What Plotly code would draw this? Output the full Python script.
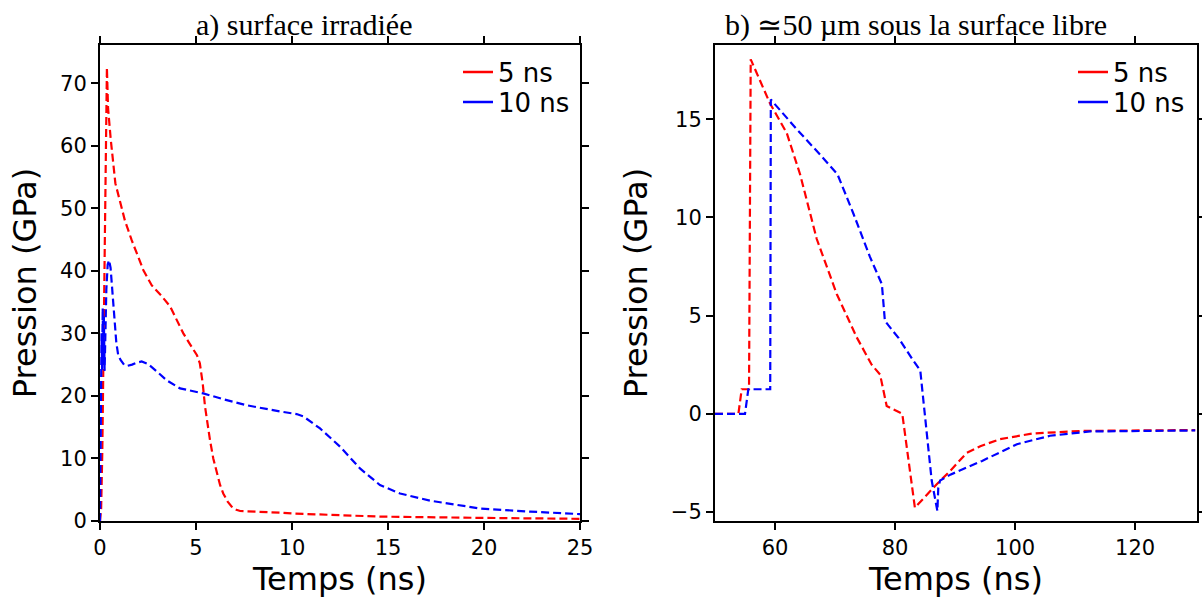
import plotly.graph_objects as go

# ---- Panel a) surface irradiée ----
t_5ns_a = [0, 0.06, 0.12, 0.2, 0.27, 0.33, 0.36, 0.42, 0.56, 0.8, 1.04, 1.3, 1.65, 2.0, 2.26, 2.69,
           3.2, 3.65, 4.0, 4.34, 4.7, 5.05, 5.2, 5.35, 5.47, 5.6, 5.73, 5.9, 6.08, 6.25, 6.42, 6.65,
           6.86, 7.1, 7.3, 8.5, 9.4, 10.0, 11.5, 14.6, 19.8, 25.0]
p_5ns_a = [0, 2, 11, 35, 55, 70, 72.5, 66, 61, 54, 51, 48, 44.9, 42.3, 40.1, 37.7,
           36, 34.3, 32, 30, 28.2, 26.5, 25.2, 22, 18.3, 15.5, 12.9, 10, 7.6, 5.8, 4.4, 3.1,
           2.3, 1.8, 1.6, 1.5, 1.33, 1.2, 1.0, 0.7, 0.5, 0.35]

t_10ns_a = [0, 0.04, 0.08, 0.11, 0.14, 0.17, 0.2, 0.24, 0.28, 0.33, 0.4, 0.47, 0.55, 0.63, 0.73,
            0.85, 0.95, 1.08, 1.25, 1.42, 1.67, 1.9, 2.17, 2.5, 3.0, 3.47, 4.17, 5.38, 6.5, 7.64,
            9.4, 10.24, 10.6, 11.46, 12.5, 13.54, 14.58, 15.63, 17.19, 19.79, 22.4, 25.0]
p_10ns_a = [0, 12, 30, 24, 34, 25, 33, 24, 30, 37, 41, 41.7, 40.5, 37, 32.6,
            28.5, 26.5, 25.7, 25.0, 24.8, 25.0, 25.3, 25.5, 25.1, 23.8, 22.5, 21.2, 20.4, 19.4, 18.5,
            17.5, 17.1, 16.7, 14.8, 11.9, 8.4, 5.75, 4.4, 3.25, 2.0, 1.5, 1.1]

# ---- Panel b) ~50 µm sous la surface libre ----
t_5ns_b = [50, 53.9, 54.45, 55.67, 55.95, 59.17, 61.95, 64.17, 66.95, 70.28, 73.6, 76.1, 77.5,
           78.6, 81.2, 83.3, 86.9, 89.2, 91.9, 94.2, 97.5, 103, 111.4, 130]
p_5ns_b = [0, 0, 1.25, 1.25, 18.05, 15.8, 14.3, 12.2, 8.9, 6.1, 3.9, 2.5, 2.0,
           0.4, 0.0, -4.78, -3.6, -2.9, -2.0, -1.65, -1.29, -1.0, -0.87, -0.83]

t_10ns_b = [50, 55.0, 55.55, 59.2, 59.3, 63.6, 67.5, 70.4, 73.05, 75.8, 77.8, 78.3, 78.9, 80.6,
            83.05, 84.2, 86.1, 87.05, 87.2, 87.5, 89.2, 94.5, 100.3, 105.8, 112.5, 130]
p_10ns_b = [0, 0, 1.25, 1.25, 16.0, 14.5, 13.2, 12.2, 10.2, 8.0, 6.6, 4.74, 4.5, 3.85,
            2.7, 2.2, -3.4, -4.95, -3.76, -3.4, -3.1, -2.4, -1.55, -1.12, -0.9, -0.85]

legend_labels = ["5 ns", "10 ns"]
colors = ["#ff0000", "#0000ff"]

xticks_a = [0, 5, 10, 15, 20, 25]
yticks_a = [0, 10, 20, 30, 40, 50, 60, 70]
xticks_b = [60, 80, 100, 120]
yticks_b = [-5, 0, 5, 10, 15]

titles = ["a) surface irradiée", "b) \u224350 \u00b5m sous la surface libre"]

W, H = 1202, 598
dash = "8px,4px"

fig = go.Figure()
series = [
    (t_5ns_a, p_5ns_a, colors[0], "x", "y"),
    (t_10ns_a, p_10ns_a, colors[1], "x", "y"),
    (t_5ns_b, p_5ns_b, colors[0], "x2", "y2"),
    (t_10ns_b, p_10ns_b, colors[1], "x2", "y2"),
]
for tx, py, c, xa, ya in series:
    fig.add_trace(go.Scatter(x=tx, y=py, mode="lines", xaxis=xa, yaxis=ya,
                             line=dict(color=c, width=2.2, dash=dash), showlegend=False))

# legend entries (solid short samples, as in the reference); one legend per row
legend_ids = [["legend", "legend2"], ["legend3", "legend4"]]
legend_left = [458, 1073]          # px, legend box left edge per panel
legend_rows = [72, 102]            # px, row centres
for k, (xa, ya) in enumerate([("x", "y"), ("x2", "y2")]):
    for j, (lab, c) in enumerate(zip(legend_labels, colors)):
        fig.add_trace(go.Scatter(x=[None], y=[None], mode="lines", xaxis=xa, yaxis=ya,
                                 name=lab, line=dict(color=c, width=2.5),
                                 legend=legend_ids[k][j], showlegend=True))

legend_layout = {}
for k in range(2):
    for j in range(2):
        legend_layout[legend_ids[k][j]] = dict(
            x=legend_left[k] / W, xanchor="left",
            y=1 - legend_rows[j] / H, yanchor="middle",
            bgcolor="rgba(0,0,0,0)", itemwidth=30,
            font=dict(family="DejaVu Sans", size=26, color="black"))

ydom = [1 - 521 / H, 1 - 45 / H]
axis_common = dict(showline=True, linecolor="black", linewidth=2, mirror="allticks",
                   ticks="outside", ticklen=7, tickwidth=1.5, tickcolor="black",
                   showgrid=False, zeroline=False, automargin=False,
                   tickfont=dict(family="DejaVu Sans", size=21, color="black"))
title_font = dict(family="DejaVu Sans", size=32, color="black")

fig.update_layout(
    width=W, height=H,
    margin=dict(l=0, r=0, t=0, b=0, autoexpand=False),
    paper_bgcolor="white", plot_bgcolor="white",
    xaxis=dict(domain=[100 / W, 580 / W], range=[0, 25], tickvals=xticks_a, anchor="y",
               title=dict(text="Temps (ns)", font=title_font, standoff=4), **axis_common),
    yaxis=dict(domain=ydom, range=[0, 76.1], tickvals=yticks_a, anchor="x",
               title=dict(text="Pression (GPa)", font=title_font, standoff=14), **axis_common),
    xaxis2=dict(domain=[715 / W, 1197 / W], range=[50, 130.3], tickvals=xticks_b, anchor="y2",
                title=dict(text="Temps (ns)", font=title_font, standoff=4), **axis_common),
    yaxis2=dict(domain=ydom, range=[-5.46, 18.78], tickvals=yticks_b, anchor="x2",
                title=dict(text="Pression (GPa)", font=title_font, standoff=14), **axis_common),
    annotations=[
        dict(text=titles[0], x=304 / W, y=1 - 25 / H, xref="paper", yref="paper",
             xanchor="center", yanchor="middle", showarrow=False,
             font=dict(family="Liberation Serif", size=30, color="black")),
        dict(text=titles[1], x=916 / W, y=1 - 25 / H, xref="paper", yref="paper",
             xanchor="center", yanchor="middle", showarrow=False,
             font=dict(family="Liberation Serif", size=30, color="black")),
    ],
    **legend_layout,
)

fig.write_html("out.html", post_script="document.body.style.margin='0';",
               config={"displayModeBar": False})
